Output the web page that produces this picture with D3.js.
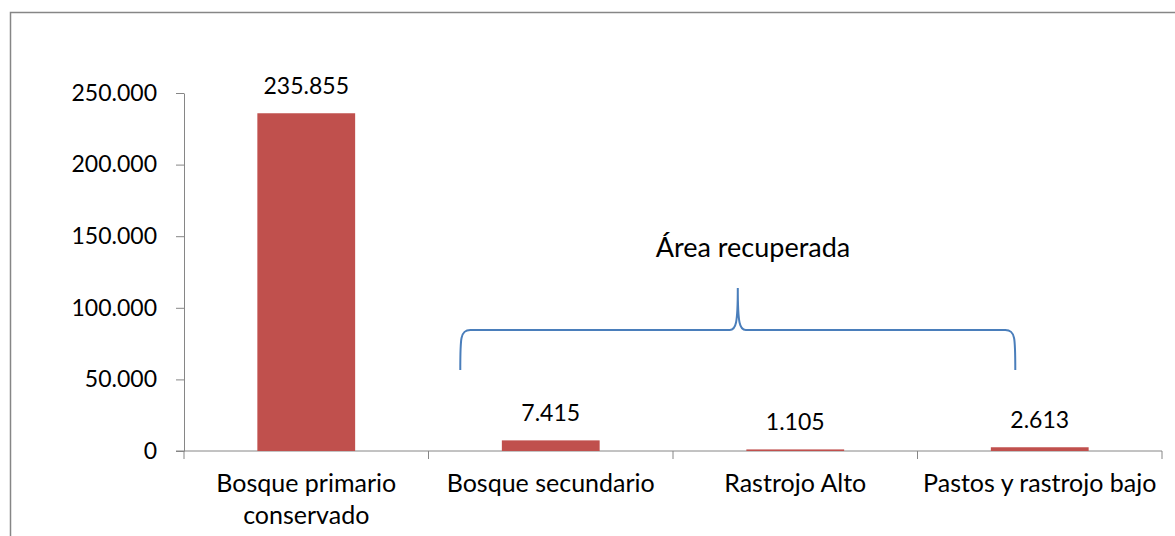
<!DOCTYPE html>
<html>
<head>
<meta charset="utf-8">
<style>
    body { margin: 0; background: white; }
    text { font-family: Lato, "Open Sans", sans-serif; fill: #000; }
    .axis path, .axis line { stroke: #868686; }
</style>
</head>
<body>
<svg id="chart" width="1175" height="536"></svg>
<script src="https://cdn.jsdelivr.net/npm/d3@7/dist/d3.min.js"></script>
<script>
    // data
    let categories = ["Bosque primario|conservado", "Bosque secundario", "Rastrojo Alto", "Pastos y rastrojo bajo"]
    let values = [235855, 7415, 1105, 2613]
    let yTicks = [0, 50000, 100000, 150000, 200000, 250000]
    let annotation = "Área recuperada"
    // bracket over the recovered area, in data units (category index + fraction, value)
    let bracketFrom = [1.13, 56600]
    let bracketTo = [3.40, 56600]
    let bracketBar = 84500
    let bracketPeak = 113800

    let svg = d3.select("#chart")
    let fmt = v => d3.format(",")(v).replace(/,/g, ".")

    // outer frame
    svg.append("rect")
        .attr("x", 10.5).attr("y", 12.5)
        .attr("width", 1180).attr("height", 540)
        .attr("fill", "none").attr("stroke", "#868686").attr("stroke-width", 1.5)

    let plotL = 184, plotR = 1162, plotT = 93, plotB = 451

    let x = d3.scaleBand().domain(categories).range([plotL, plotR]).padding(0)
    let xi = d3.scaleLinear().domain([0, 4]).range([plotL, plotR]) // continuous index, for the bracket
    let y = d3.scaleLinear().domain([0, 250000]).range([plotB, plotT])

    // y axis
    let yAxis = svg.append("g").attr("class", "axis")
        .attr("transform", `translate(${plotL},0)`)
        .call(d3.axisLeft(y).tickValues(yTicks).tickSizeInner(8).tickSizeOuter(0).tickPadding(19).tickFormat(fmt))
    yAxis.selectAll("text").style("font-size", "23px").style("font-family", "Lato, sans-serif").attr("fill", "#000")

    // x axis: ticks at the band edges
    let xAxis = svg.append("g").attr("class", "axis")
        .attr("transform", `translate(0,${plotB})`)
    xAxis.append("line").attr("x1", plotL - 8).attr("x2", plotR).attr("y1", 0).attr("y2", 0)
    xAxis.selectAll(".edge")
        .data(d3.range(5))
        .enter()
        .append("line")
        .attr("class", "edge")
        .attr("x1", d => xi(d)).attr("x2", d => xi(d))
        .attr("y1", 0).attr("y2", 8)

    // category labels
    let cat = svg.append("g").selectAll("text")
        .data(categories)
        .enter()
        .append("text")
        .attr("x", d => x(d) + x.bandwidth() / 2)
        .attr("y", plotB + 41)
        .attr("text-anchor", "middle")
        .style("font-size", "25px")
    cat.selectAll("tspan")
        .data(d => d.split("|"))
        .enter()
        .append("tspan")
        .attr("x", function () { return d3.select(this.parentNode).attr("x") })
        .attr("dy", (d, i) => i === 0 ? 0 : 32)
        .text(d => d)

    // bars
    let barW = x.bandwidth() * 0.4
    svg.append("g").selectAll("rect")
        .data(values)
        .enter()
        .append("rect")
        .attr("x", (d, i) => x(categories[i]) + x.bandwidth() / 2 - barW / 2)
        .attr("y", d => y(d))
        .attr("width", barW)
        .attr("height", d => plotB - y(d))
        .attr("fill", "#c0504d")

    // value labels
    svg.append("g").selectAll("text")
        .data(values)
        .enter()
        .append("text")
        .attr("x", (d, i) => x(categories[i]) + x.bandwidth() / 2)
        .attr("y", d => y(d) - 19)
        .attr("text-anchor", "middle")
        .style("font-size", "23px")
        .text(fmt)

    // curly bracket
    let x0 = xi(bracketFrom[0]), x1 = xi(bracketTo[0])
    let yb = y(bracketFrom[1]), ym = y(bracketBar), yp = y(bracketPeak)
    let xm = (x0 + x1) / 2
    let r = 10
    let p = d3.path()
    p.moveTo(x0, yb)
    p.bezierCurveTo(x0, ym + 8, x0, ym, x0 + r, ym)
    p.lineTo(xm - 8, ym)
    p.bezierCurveTo(xm - 2, ym, xm, ym - 6, xm, yp)
    p.bezierCurveTo(xm, ym - 6, xm + 2, ym, xm + 8, ym)
    p.lineTo(x1 - r, ym)
    p.bezierCurveTo(x1, ym, x1, ym + 8, x1, yb)
    svg.append("path")
        .attr("d", p.toString())
        .attr("fill", "none")
        .attr("stroke", "#4a7ebb")
        .attr("stroke-width", 2)

    svg.append("text")
        .attr("x", 753)
        .attr("y", yp - 31)
        .attr("text-anchor", "middle")
        .style("font-size", "27px")
        .text(annotation)
</script>
</body>
</html>
